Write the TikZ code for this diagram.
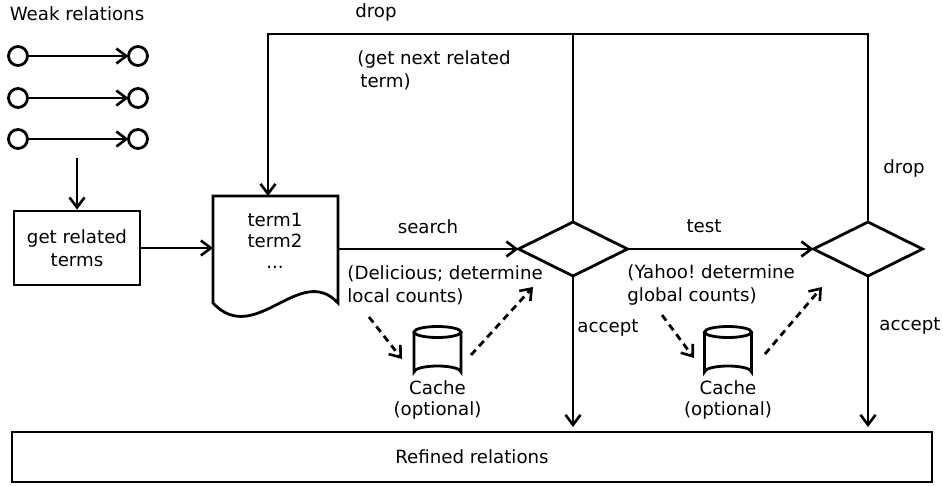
\documentclass[tikz,border=0pt]{standalone}
\usepackage{fontspec}
\setmainfont{DejaVu Sans}
\usetikzlibrary{arrows.meta,shapes.geometric}
\frenchspacing
\begin{document}
\begin{tikzpicture}[x=1pt,y=-1pt,line width=2.8pt,
  font=\fontsize{18.2}{23}\selectfont,
  arr/.style={-{Straight Barb[length=10pt,width=15pt,line width=2.6pt]}},
  dsh/.style={arr,dash pattern=on 7pt off 5pt},
  lbl/.style={inner sep=0pt},
  circ/.style={circle,draw,minimum size=19pt,inner sep=0pt,outer sep=0pt},
  dec/.style={diamond,draw,inner sep=0pt,outer sep=0pt,minimum width=109pt,minimum height=54pt}]
\useasboundingbox (0,0) rectangle (943,485);

% weak relations
\node[lbl] (wrt) at (77,14) {Weak relations};
\foreach \i/\y in {1/56,2/98,3/139}{
  \node[circ] (a\i) at (18,\y) {};
  \node[circ] (b\i) at (138,\y) {};
  \draw[arr] (a\i) -- (b\i);
}
\coordinate (wr) at (77,158);
\node[draw,minimum width=126pt,minimum height=74pt,align=center,inner sep=0pt] (grt) at (77,248) {get related\\terms};
\draw[arr] (wr) -- (grt);

% document
\node[minimum width=125pt,minimum height=106pt,inner sep=0pt,outer sep=0pt] (doc) at (275.5,249) {};
\draw (213,196) -- (338,196) -- (338,303) .. controls (300,262) and (255,348) .. (213,303) -- cycle;
\node[lbl,align=center,font=\fontsize{18.2}{21}\selectfont] (terms) at (275,241) {term1\\term2\\...};
\draw[arr] (grt.east) -- (grt.east -| doc.west);

% decisions
\node[dec] (d1) at (573,249) {};
\node[dec] (d2) at (868,249) {};
\draw[arr] (doc.east |- d1.west) -- (d1.west);
\draw[arr] (d1.east) -- (d2.west);
\node[lbl] (search) at (428,227) {search};
\node[lbl] (test) at (704,226) {test};

% loop back
\coordinate (top0) at (268,34);
\draw[arr] (d2.north) |- (top0) -- (top0 |- doc.north);
\draw (d1.north) -- (d1.north |- top0);
\node[lbl] (drop1) at (376,12) {drop};
\node[lbl] (drop2) at (904,168) {drop};
\node[lbl,anchor=west,align=left] (next) at (356,70) {(get next related\\\hspace{3pt}term)};

% notes
\node[lbl,anchor=west,align=left] (n1) at (346,285) {(Delicious; determine\\local counts)};
\node[lbl,anchor=west,align=left] (n2) at (626,285) {(Yahoo! determine\\global counts)};

% caches
\foreach \c/\cx in {1/437.5,2/728}{
  \coordinate (c\c) at (\cx,352);
  \draw (\cx-23.5,332) -- (\cx-23.5,372) arc[start angle=180,end angle=360,x radius=23.5,y radius=6] -- (\cx+23.5,332);
  \draw (\cx,332) ellipse[x radius=23.5,y radius=5.5];
  \node[lbl,align=center,font=\fontsize{18.2}{21}\selectfont] (cl\c) at (\cx,400) {Cache\\(optional)};
}
\coordinate (p1) at (369,317); \coordinate (q1) at (402,359);
\coordinate (p2) at (471,355); \coordinate (q2) at (533,287);
\coordinate (p3) at (662,315); \coordinate (q3) at (694,358);
\coordinate (p4) at (765,354); \coordinate (q4) at (822,287);
\draw[dsh] (p1) -- (q1);
\draw[dsh] (p2) -- (q2);
\draw[dsh] (p3) -- (q3);
\draw[dsh] (p4) -- (q4);

% accept
\node[draw,minimum width=920pt,minimum height=50pt,inner sep=0pt] (ref) at (472,457) {Refined relations};
\coordinate (e1) at (573,427); \coordinate (e2) at (868,427);
\draw[arr] (d1.south) -- (e1);
\draw[arr] (d2.south) -- (e2);
\node[lbl] (acc1) at (608,328) {accept};
\node[lbl] (acc2) at (910,326) {accept};
\end{tikzpicture}
\end{document}
